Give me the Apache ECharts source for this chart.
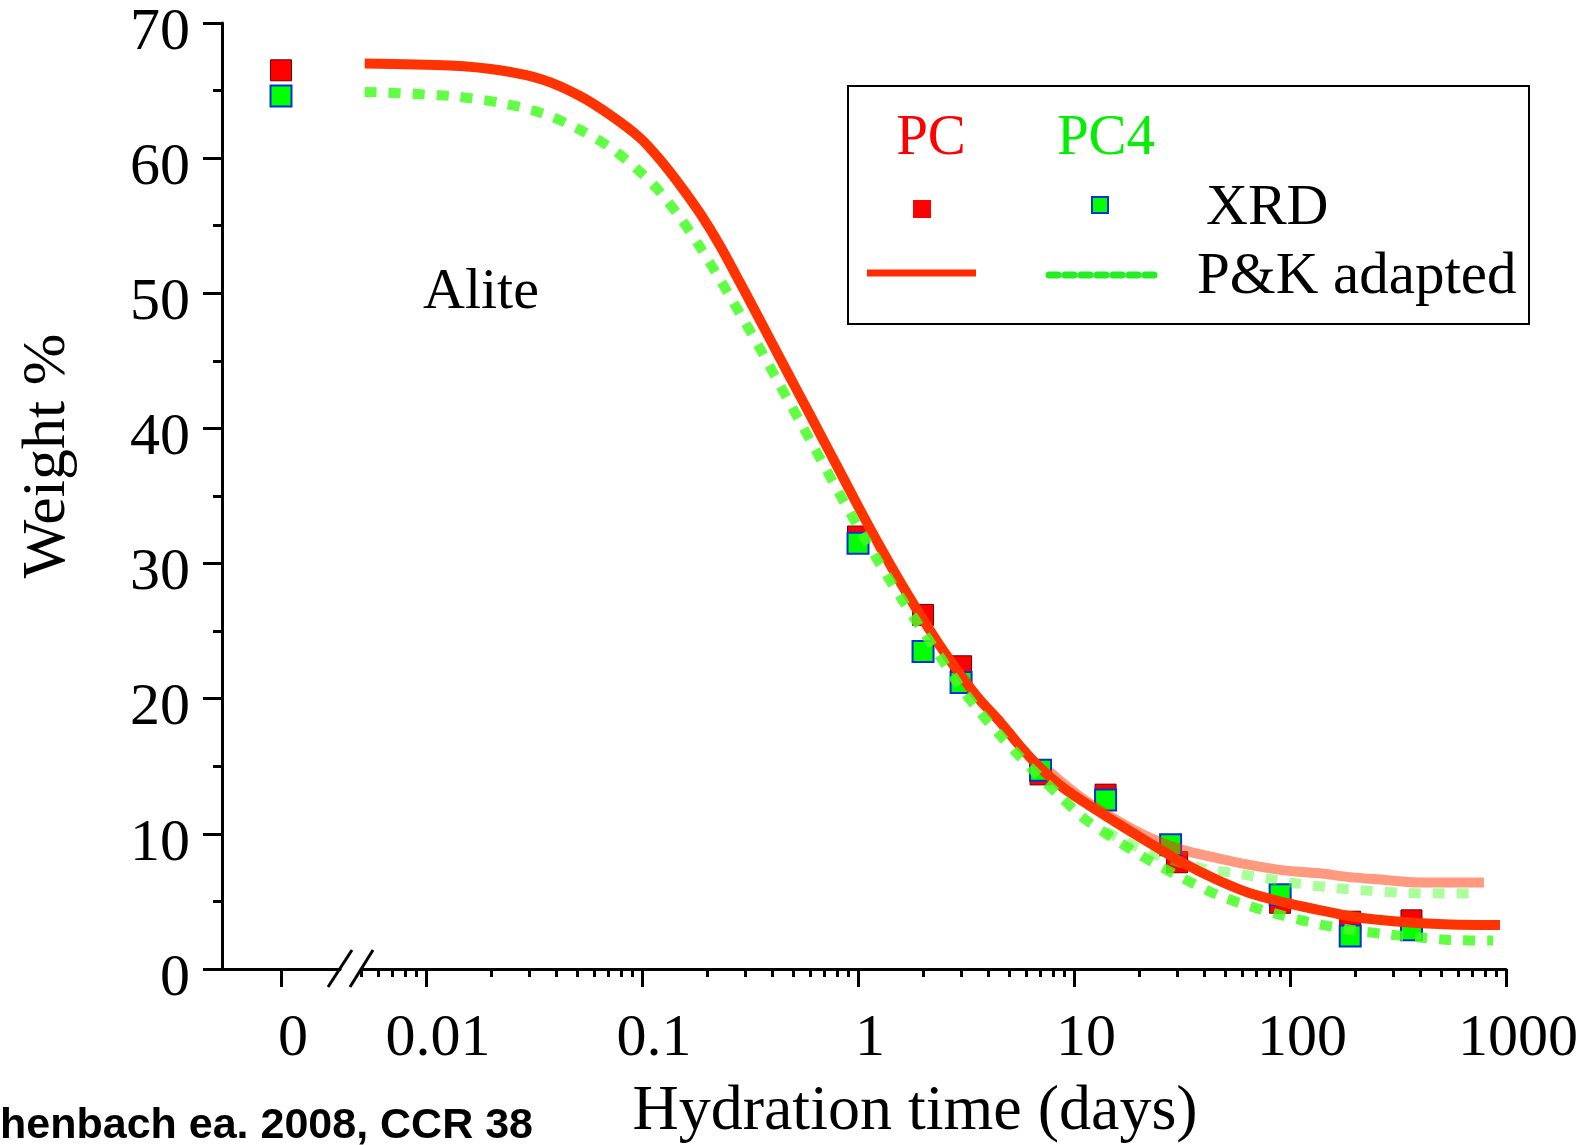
<!DOCTYPE html>
<html><head><meta charset="utf-8">
<script src="https://cdn.jsdelivr.net/npm/echarts@6/dist/echarts.min.js"></script>
<style>html,body{margin:0;padding:0;background:#fff}#c{width:1586px;height:1145px}</style>
</head><body><div id="c"></div>
<script>
// ---------- data ----------
const zeroCategory = ['0'];
const zeroPC = [66.5];
const zeroPC4 = [64.6];

const xrdDaysPC  = [1, 2, 3, 7, 14, 30, 90, 190, 365];
const xrdPC      = [32.0, 26.2, 22.4, 14.4, 12.9, 7.9, 4.9, 3.5, 3.6];
const xrdDaysPC4 = [1, 2, 3, 7, 14, 28, 90, 190, 365];
const xrdPC4     = [31.5, 23.5, 21.2, 14.7, 12.5, 9.2, 5.5, 2.45, 2.9];

const pkDaysPC = [0.0052, 0.0129, 0.022, 0.0348, 0.0516, 0.0711, 0.0979, 0.121, 0.150, 0.186, 0.230, 0.284, 0.352, 0.435, 0.539, 0.667, 0.825, 1.02, 1.26, 1.56, 1.94, 2.40, 2.97, 3.67, 4.54, 5.62, 6.96, 8.61, 11.0, 15.8, 22.5, 32.0, 45.9, 65.3, 92.8, 133, 190, 270, 387, 551, 938];
const pkPC     = [67.0, 66.85, 66.5, 65.8, 64.6, 63.2, 61.5, 59.9, 58.0, 55.9, 53.5, 50.8, 48.0, 45.2, 42.4, 39.6, 36.8, 34.0, 31.3, 28.7, 26.2, 23.9, 21.8, 19.9, 18.3, 16.5, 14.9, 13.6, 12.4, 10.8, 9.3, 7.85, 6.6, 5.6, 4.95, 4.4, 3.9, 3.6, 3.4, 3.3, 3.25];

const pkDaysPC4 = [0.0052, 0.0129, 0.022, 0.0348, 0.0516, 0.0711, 0.0979, 0.121, 0.150, 0.186, 0.230, 0.284, 0.352, 0.435, 0.539, 0.667, 0.825, 1.02, 1.26, 1.56, 1.94, 2.40, 2.97, 3.67, 4.54, 5.62, 6.96, 8.61, 11.0, 15.8, 22.5, 32.0, 45.9, 65.3, 92.8, 133, 190, 270, 387, 551, 871];
const pkPC4     = [64.9, 64.6, 64.1, 63.3, 62.1, 60.8, 59.0, 57.5, 55.6, 53.4, 51.0, 48.5, 45.9, 43.2, 40.5, 37.8, 35.1, 32.5, 30.0, 27.6, 25.3, 23.1, 20.9, 19.0, 17.3, 15.7, 14.2, 12.8, 11.2, 9.5, 8.0, 6.7, 5.5, 4.65, 3.95, 3.35, 2.9, 2.6, 2.35, 2.15, 2.1];

const altDaysPC = [7.7, 11, 15.8, 22.5, 32, 46, 65, 93, 133, 190, 270, 390, 550, 790];
const altPC     = [14.6, 12.6, 11.0, 9.7, 8.8, 8.2, 7.7, 7.3, 7.1, 6.8, 6.6, 6.4, 6.4, 6.4];
const altDaysPC4 = [14, 22.5, 38, 55, 78, 111, 158, 227, 323, 460, 760];
const altPC4     = [10.2, 8.6, 7.5, 7.1, 6.7, 6.3, 6.0, 5.8, 5.65, 5.6, 5.6];

const xTickValues = [0.01, 0.1, 1, 10, 100, 1000];
const xTickLabels = ['0.01', '0.1', '1', '10', '100', '1000'];
const xMinorTickValues = [0.005, 0.006, 0.007, 0.008, 0.009,
  0.02, 0.03, 0.04, 0.05, 0.06, 0.07, 0.08, 0.09,
  0.2, 0.3, 0.4, 0.5, 0.6, 0.7, 0.8, 0.9,
  2, 3, 4, 5, 6, 7, 8, 9,
  20, 30, 40, 50, 60, 70, 80, 90,
  200, 300, 400, 500, 600, 700, 800, 900];
const xMin = 0.005, xMax = 1000;
const yMin = 0, yMax = 70, yStep = 10;

const texts = {
  xTitle: 'Hydration time (days)',
  yTitle: 'Weight %',
  note: 'Alite',
  legPC: 'PC', legPC4: 'PC4', legXRD: 'XRD', legPK: 'P&K adapted',
  source: 'henbach ea. 2008, CCR 38'
};

// ---------- chart ----------
const SERIF = '"Liberation Serif", "Times New Roman", serif';
const black = '#000';
const axisLine = { show: true, onZero: false, lineStyle: { color: black, width: 3 } };
const pairs = (xs, ys) => xs.map((x, i) => [x, ys[i]]);
const logMin = Math.log10(xMin), logMax = Math.log10(xMax);

const redSq = { color: '#ff0000', borderColor: '#6a0000', borderWidth: 1, opacity: 1 };
const greenSq = { color: '#00ff00', borderColor: '#0a2ee0', borderWidth: 2, opacity: 1 };

const chart = echarts.init(document.getElementById('c'), null, { renderer: 'canvas' });
chart.setOption({
  animation: false,
  backgroundColor: '#fff',
  grid: [
    { left: 222, top: 23, width: 118, height: 946, outerBoundsMode: 'none', containLabel: false },
    { left: 361, top: 23, width: 1145, height: 946, outerBoundsMode: 'none', containLabel: false }
  ],
  xAxis: [
    { gridIndex: 0, type: 'value', min: -1, max: 1, axisLine: axisLine,
      axisTick: { show: true, customValues: [0], length: 18, lineStyle: { color: black, width: 3 } },
      axisLabel: { show: true, customValues: [0], formatter: () => zeroCategory[0], fontFamily: SERIF, fontSize: 60, lineHeight: 60, color: black, margin: 40, padding: [0, 0, 0, 24] },
      splitLine: { show: false } },
    { gridIndex: 1, type: 'log', logBase: 10, min: xMin, max: xMax, axisLine: axisLine,
      axisTick: { show: false }, axisLabel: { show: false }, splitLine: { show: false }, minorTick: { show: false } },
    { gridIndex: 1, type: 'value', position: 'bottom', min: logMin, max: logMax,
      axisLine: { show: false },
      axisTick: { show: true, customValues: xTickValues.map(Math.log10), length: 18, lineStyle: { color: black, width: 3 } },
      axisLabel: { show: true, customValues: xTickValues.map(Math.log10),
        formatter: v => { const i = xTickValues.findIndex(t => Math.abs(Math.log10(t) - v) < 1e-6); return i >= 0 ? xTickLabels[i] : ''; },
        fontFamily: SERIF, fontSize: 60, lineHeight: 60, color: black, margin: 40, padding: [0, 0, 0, 24] },
      splitLine: { show: false } },
    { gridIndex: 1, type: 'value', position: 'bottom', min: logMin, max: logMax,
      axisLine: { show: false },
      axisTick: { show: true, customValues: xMinorTickValues.map(Math.log10), length: 8, lineStyle: { color: black, width: 3 } },
      axisLabel: { show: false }, splitLine: { show: false } }
  ],
  yAxis: [
    { gridIndex: 0, type: 'value', min: yMin, max: yMax, interval: yStep, axisLine: axisLine,
      axisTick: { show: true, length: 19, lineStyle: { color: black, width: 3 } },
      minorTick: { show: true, splitNumber: 2, length: 9, lineStyle: { color: black, width: 3 } },
      axisLabel: { fontFamily: SERIF, fontSize: 60, lineHeight: 20, verticalAlign: 'top', color: black, margin: 32 },
      splitLine: { show: false }, minorSplitLine: { show: false } },
    { gridIndex: 1, type: 'value', min: yMin, max: yMax, show: false, splitLine: { show: false } }
  ],
  series: [
    { type: 'scatter', xAxisIndex: 0, yAxisIndex: 0, symbol: 'rect', symbolSize: 21, itemStyle: redSq,
      data: zeroPC.map(v => [0, v]), z: 2 },
    { type: 'scatter', xAxisIndex: 0, yAxisIndex: 0, symbol: 'rect', symbolSize: 21, itemStyle: greenSq,
      data: zeroPC4.map(v => [0, v]), z: 2 },
    { type: 'scatter', xAxisIndex: 1, yAxisIndex: 1, symbol: 'rect', symbolSize: 21, itemStyle: redSq,
      data: pairs(xrdDaysPC, xrdPC), z: 2 },
    { type: 'scatter', xAxisIndex: 1, yAxisIndex: 1, symbol: 'rect', symbolSize: 21, itemStyle: greenSq,
      data: pairs(xrdDaysPC4, xrdPC4), z: 2 },
    { type: 'line', xAxisIndex: 1, yAxisIndex: 1, showSymbol: false, symbol: 'none', smooth: 0.3, z: 3,
      lineStyle: { color: '#ff3300', width: 10, opacity: 0.5, cap: 'butt' }, data: pairs(altDaysPC, altPC) },
    { type: 'line', xAxisIndex: 1, yAxisIndex: 1, showSymbol: false, symbol: 'none', smooth: 0.3, z: 3,
      lineStyle: { color: '#44ff22', width: 10, opacity: 0.45, type: [12, 12], cap: 'butt' }, data: pairs(altDaysPC4, altPC4) },
    { type: 'line', xAxisIndex: 1, yAxisIndex: 1, showSymbol: false, symbol: 'none', smooth: 0.3, z: 4,
      lineStyle: { color: '#ff3300', width: 10, cap: 'butt' }, data: pairs(pkDaysPC, pkPC) },
    { type: 'line', xAxisIndex: 1, yAxisIndex: 1, showSymbol: false, symbol: 'none', smooth: 0.3, z: 5,
      lineStyle: { color: '#44ff22', width: 10, opacity: 0.85, type: [12, 12], cap: 'butt' }, data: pairs(pkDaysPC4, pkPC4) }
  ],
  graphic: [
    // axis break marks
    { type: 'line', shape: { x1: 328, y1: 987, x2: 352, y2: 950 }, style: { stroke: black, lineWidth: 3 }, z: 10 },
    { type: 'line', shape: { x1: 350, y1: 987, x2: 373, y2: 950 }, style: { stroke: black, lineWidth: 3 }, z: 10 },
    // titles
    { type: 'text', x: 915, y: 1112, style: { text: texts.xTitle, font: '64px ' + SERIF, fill: black, align: 'center', verticalAlign: 'middle' } },
    { type: 'text', x: 48, y: 456, rotation: Math.PI / 2, style: { text: texts.yTitle, font: '62px ' + SERIF, fill: black, align: 'center', verticalAlign: 'middle' } },
    { type: 'text', x: 423, y: 293, style: { text: texts.note, font: '58px ' + SERIF, fill: black, align: 'left', verticalAlign: 'middle' } },
    { type: 'text', x: 0, y: 1126, style: { text: texts.source, font: 'bold 43px "Liberation Sans", Arial, sans-serif', fill: black, align: 'left', verticalAlign: 'middle' } },
    // legend box
    { type: 'rect', shape: { x: 848, y: 86, width: 681, height: 238 }, style: { fill: '#fff', stroke: black, lineWidth: 2 }, z: 20 },
    { type: 'text', x: 931, y: 139, z: 21, style: { text: texts.legPC, font: '57px ' + SERIF, fill: '#ff0000', align: 'center', verticalAlign: 'middle' } },
    { type: 'text', x: 1106, y: 139, z: 21, style: { text: texts.legPC4, font: '57px ' + SERIF, fill: '#00f000', align: 'center', verticalAlign: 'middle' } },
    { type: 'rect', z: 21, shape: { x: 913, y: 200, width: 18, height: 18 }, style: { fill: '#ff0000' } },
    { type: 'rect', z: 21, shape: { x: 1092, y: 197, width: 16, height: 16 }, style: { fill: '#00ff00', stroke: '#0a2ee0', lineWidth: 2 } },
    { type: 'text', x: 1206, y: 209, z: 21, style: { text: texts.legXRD, font: '58px ' + SERIF, fill: black, align: 'left', verticalAlign: 'middle' } },
    { type: 'line', z: 21, shape: { x1: 867, y1: 273, x2: 976, y2: 273 }, style: { stroke: '#ff2a00', lineWidth: 7 } },
    { type: 'line', z: 21, shape: { x1: 1049, y1: 275, x2: 1156, y2: 275 }, style: { stroke: '#22ee22', lineWidth: 7, lineDash: [9, 7], lineCap: 'round' } },
    { type: 'text', x: 1197, y: 277, z: 21, style: { text: texts.legPK, font: '59px ' + SERIF, fill: black, align: 'left', verticalAlign: 'middle' } }
  ]
});
</script>
</body></html>
